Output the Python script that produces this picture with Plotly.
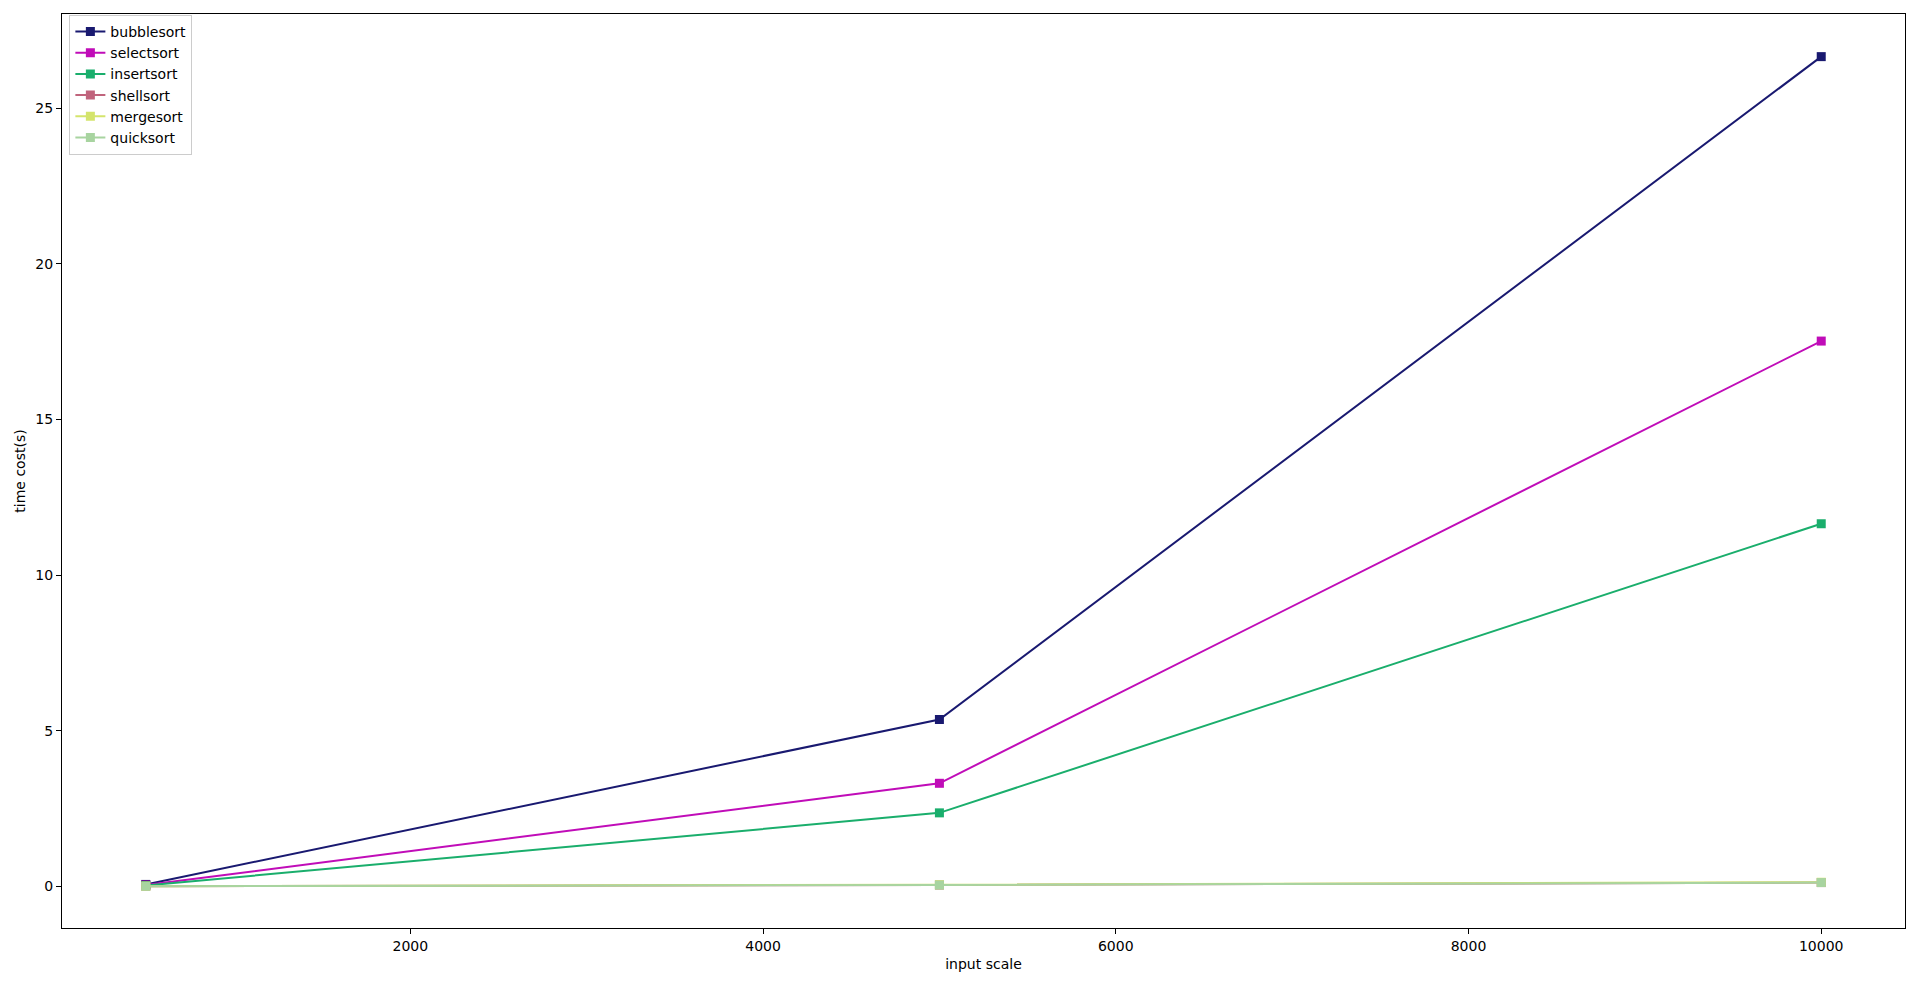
import plotly.graph_objects as go

input_scale = [500, 5000, 10000]
bubblesort = [0.06, 5.36, 26.66]
selectsort = [0.04, 3.31, 17.52]
insertsort = [0.025, 2.36, 11.65]
shellsort = [0.003, 0.04, 0.12]
mergesort = [0.004, 0.05, 0.13]
quicksort = [0.002, 0.04, 0.12]
x_ticks = [2000, 4000, 6000, 8000, 10000]
x_tick_labels = ["2000", "4000", "6000", "8000", "10000"]
y_ticks = [0, 5, 10, 15, 20, 25]

series = [
    ("bubblesort", bubblesort, "#191970"),
    ("selectsort", selectsort, "#c00cb8"),
    ("insertsort", insertsort, "#1aae6c"),
    ("shellsort", shellsort, "#c0647c"),
    ("mergesort", mergesort, "#d4e46c"),
    ("quicksort", quicksort, "#a8d4a0"),
]

fig = go.Figure()
for name, vals, color in series:
    fig.add_trace(go.Scatter(
        x=input_scale, y=vals, name=name, mode="lines+markers",
        line=dict(color=color, width=2),
        marker=dict(symbol="square", size=9, color=color),
    ))

font = dict(family="DejaVu Sans", size=14, color="black")
fig.update_layout(
    width=1904, height=970,
    plot_bgcolor="white", paper_bgcolor="white",
    font=font,
    margin=dict(l=54, r=7, t=6, b=50, autoexpand=False),
    showlegend=True,
    legend=dict(x=0.004, y=0.999, xanchor="left", yanchor="top",
                bordercolor="#cccccc", borderwidth=1, bgcolor="rgba(255,255,255,0.8)",
                font=font, tracegroupgap=0, itemwidth=30),
)
fig.update_xaxes(
    range=[25, 10475], tickvals=x_ticks, ticktext=x_tick_labels,
    showgrid=False, zeroline=False, showline=True, linecolor="black", linewidth=1,
    mirror=True, ticks="outside", ticklen=5, tickcolor="black",
    title=dict(text="input scale", font=font, standoff=6),
)
fig.update_yaxes(
    range=[-1.34, 28.03], tickvals=y_ticks,
    showgrid=False, zeroline=False, showline=True, linecolor="black", linewidth=1,
    mirror=True, ticks="outside", ticklen=5, tickcolor="black",
    title=dict(text="time cost(s)", font=font, standoff=6),
)

fig.write_html("out.html")
